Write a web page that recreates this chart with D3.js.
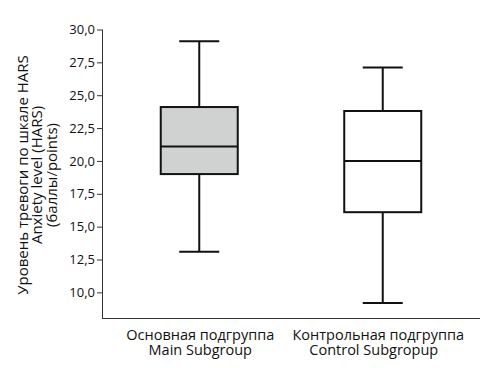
<!DOCTYPE html>
<html><head><meta charset="utf-8">
<script src="https://cdn.jsdelivr.net/npm/d3@7"></script>
<style>body{margin:0;background:#fff}svg{display:block}text{font-family:"Open Sans",sans-serif;fill:#111}</style>
</head><body><svg id="c" width="495" height="368"></svg>
<script>
const categories = ["Основная подгруппа|Main Subgroup", "Контрольная подгруппа|Control Subgropup"];
const mins = [13.1, 9.2];
const q1s = [19.0, 16.1];
const medians = [21.1, 20.0];
const q3s = [24.1, 23.8];
const maxs = [29.1, 27.1];
const fills = ["#d0d2d1", "#ffffff"];
const yTicks = [10, 12.5, 15, 17.5, 20, 22.5, 25, 27.5, 30];
const yLabelLines = ["Уровень тревоги по шкале HARS", "Anxiety level (HARS)", "(баллы/points)"];

const svg = d3.select("#c");
const x = d3.scalePoint().domain(categories).range([102, 480]).padding(0.53);
const y = d3.scaleLinear().domain([8.05, 30]).range([318, 29.5]);
const fmt = v => d3.format(".1f")(v).replace(".", ",");

const yAxis = svg.append("g").attr("transform", "translate(102,0)")
  .call(d3.axisLeft(y).tickValues(yTicks).tickFormat(fmt).tickSize(5).tickSizeOuter(0));
yAxis.select(".domain").attr("stroke", "#333").attr("d", `M0.5,${y(30)}V318.5`);
yAxis.selectAll(".tick line").attr("stroke", "#333");
yAxis.selectAll(".tick text").attr("font-size", 13).attr("x", -7).style("font-family", "Open Sans");

svg.append("line").attr("x1", 102).attr("x2", 480).attr("y1", 318.5).attr("y2", 318.5).attr("stroke", "#333");

const bw = 77, cw = 40;
const labelShift = [[1, 1], [-4.5, -9]];
const g = svg.append("g").selectAll("g").data(categories).join("g");
g.each(function(d, i) {
  const s = d3.select(this), cx = x(d);
  const ln = (x1, x2, y1, y2) => s.append("line").attr("x1", x1).attr("x2", x2).attr("y1", y1).attr("y2", y2).attr("stroke", "#111").attr("stroke-width", 2);
  ln(cx, cx, y(maxs[i]), y(q3s[i]));
  ln(cx, cx, y(q1s[i]), y(mins[i]));
  ln(cx - cw/2, cx + cw/2, y(maxs[i]), y(maxs[i]));
  ln(cx - cw/2, cx + cw/2, y(mins[i]), y(mins[i]));
  s.append("rect").attr("x", cx - bw/2).attr("width", bw).attr("y", y(q3s[i])).attr("height", y(q1s[i]) - y(q3s[i]))
    .attr("fill", fills[i]).attr("stroke", "#111").attr("stroke-width", 2);
  ln(cx - bw/2, cx + bw/2, y(medians[i]), y(medians[i]));
  d.split("|").forEach((l, k) => s.append("text").attr("text-anchor", "middle").attr("font-size", 14.5)
    .attr("x", cx + labelShift[i][k]).attr("y", 340 + k * 14.5).text(l));
});

yLabelLines.forEach((t, k) => svg.append("text")
  .attr("transform", `translate(${27.5 + k * 14.5},175) rotate(-90)`)
  .attr("text-anchor", "middle").attr("font-size", 15).text(t));
</script></body></html>
